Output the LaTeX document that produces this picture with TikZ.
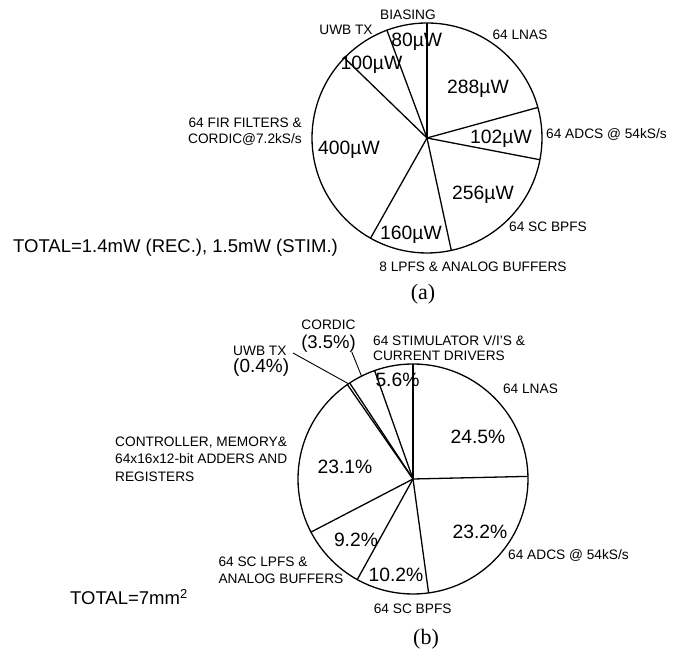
\documentclass[tikz,border=0pt]{standalone}
\usepackage{fontspec}
\usetikzlibrary{calc}
\setmainfont{Liberation Sans}
\newfontfamily\capfont{Liberation Serif}
\begin{document}
\begin{tikzpicture}[x=1pt,y=1pt,
  small/.style={font=\fontsize{13.7}{16}\selectfont, inner sep=0pt, text height=9.8pt, text depth=0pt},
  smallml/.style={font=\fontsize{13.7}{#1}\selectfont, inner sep=0pt},
  big/.style={font=\fontsize{19.3}{22}\selectfont, inner sep=0pt, text height=13.8pt, text depth=0pt},
  total/.style={font=\fontsize{18.5}{22}\selectfont, inner sep=0pt, text height=13.2pt, text depth=0pt},
  caption/.style={font=\capfont\fontsize{22}{24}\selectfont, inner sep=0pt},
  pieline/.style={line width=1.3pt},
  leader/.style={line width=0.9pt}]
\useasboundingbox (0,0) rectangle (673,653);

% ---------- (a) power pie ----------
\coordinate (ca) at (427,515);
\draw[pieline] (ca) circle (115);
\foreach \a in {90,15.4,-10.9,-77.8,-119.4,135.9,110.4}
  \draw[pieline] (ca) -- ++(\a:115);

\node[small] (biasA) at (408,638) {BIASING};
\node[small] (uwbA) at (346,623) {UWB TX};
\node[small] (lnaA) at (520,618) {64 LNAS};
\node[small, anchor=west] (adcA) at (546,519) {64 ADCS @ 54kS/s};
\node[small, anchor=west] (bpfA) at (509,426) {64 SC BPFS};
\node[small] (lpfA) at (473,386) {8 LPFS \& ANALOG BUFFERS};
\node[smallml=16, align=right, anchor=north east] (firA) at (302,535) {64 FIR FILTERS \&\\CORDIC@7.2kS/s};

\node[big] (p80) at (416.7,613) {80µW};
\node[big] (p100) at (371.5,590) {100µW};
\node[big] (p288) at (478,566) {288µW};
\node[big] (p102) at (501,516) {102µW};
\node[big] (p400) at (349,505) {400µW};
\node[big] (p256) at (483,460) {256µW};
\node[big] (p160) at (411,420) {160µW};

\node[total, anchor=west] (totA) at (13,407) {TOTAL=1.4mW (REC.), 1.5mW (STIM.)};
\node[caption] (capA) at (423,359) {(a)};

% ---------- (b) area pie ----------
\coordinate (cb) at (413,174);
\draw[pieline] (cb) circle (115);
\foreach \a in {90,1.3,-82.2,-119,-152.5,124.8,123.4,109.5}
  \draw[pieline] (cb) -- ++(\a:115);

\coordinate (uwbB-end) at ($(cb)+(124.1:115)$);
\coordinate (cordB-end) at ($(cb)+(116.6:115)$);

\node[smallml=18.5, align=center, anchor=north] (cordB) at (328.5,333)
  {CORDIC\\{\fontsize{18.5}{18.5}\selectfont (3.5\%)}};
\node[smallml=15.7, align=left, anchor=north west] (stimB) at (373,318)
  {64 STIMULATOR V/I'S \&\\CURRENT DRIVERS};
\node[smallml=17.5, align=left, anchor=north west] (uwbB) at (233,307.5)
  {UWB TX\\{\fontsize{19}{17.5}\selectfont (0.4\%)}};
\node[small] (lnaB) at (530.5,264) {64 LNAS};
\node[small, anchor=west] (adcB) at (508,98) {64 ADCS @ 54kS/s};
\node[small] (bpfB) at (412.7,44) {64 SC BPFS};
\node[smallml=17.3, align=left, anchor=north west] (lpfB) at (218.3,96.3)
  {64 SC LPFS \&\\ANALOG BUFFERS};
\node[smallml=17.3, align=left, anchor=north west] (ctrlB) at (115,216.3)
  {CONTROLLER, MEMORY\&\\64x16x12-bit ADDERS AND\\REGISTERS};

\node[big] (q56) at (397.5,273) {5.6\%};
\node[big] (q245) at (478,216) {24.5\%};
\node[big] (q232) at (480,121) {23.2\%};
\node[big] (q102) at (396,78) {10.2\%};
\node[big] (q92) at (356,113) {9.2\%};
\node[big] (q231) at (345,186) {23.1\%};

\node[total, anchor=west] (totB) at (70,55) {TOTAL=7mm\textsuperscript{2}};
\node[caption] (capB) at (426,14) {(b)};

\coordinate (uwbB-start) at (293,300);
\coordinate (cordB-start) at (351.7,301.3);
\draw[leader] (uwbB-start) -- (uwbB-end);
\draw[leader] (cordB-start) -- (cordB-end);
\end{tikzpicture}
\end{document}
